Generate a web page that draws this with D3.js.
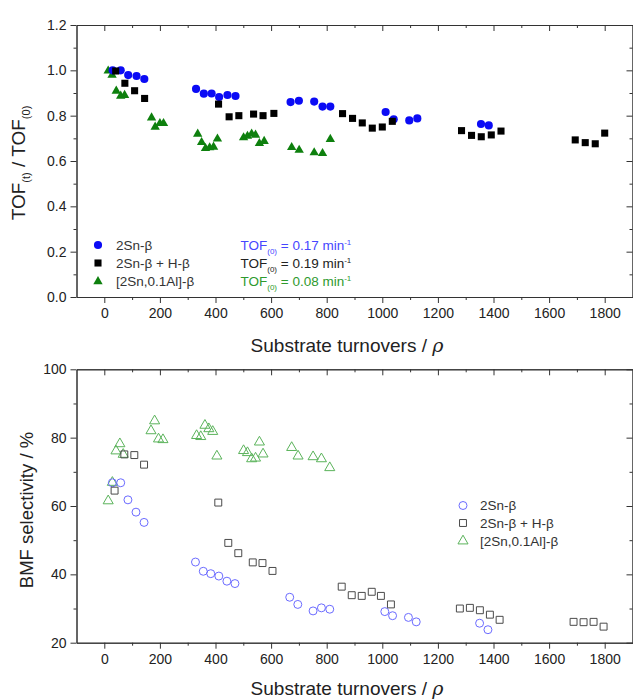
<!DOCTYPE html>
<html><head><meta charset="utf-8">
<script src="https://cdn.jsdelivr.net/npm/d3@7"></script>
<style>
body{margin:0;background:#fff;}
text{font-family:"Liberation Sans",Arial,sans-serif;}
</style></head>
<body><svg id="chart" width="633" height="700"></svg>
<script>
// ---- data: top panel (TOF(t)/TOF(0)) ----
const topSn_x   = [30, 59, 86, 116, 144, 330, 358, 386, 413, 443, 472, 670, 700, 755, 785, 813, 1012, 1041, 1097, 1126, 1355, 1383];
const topSn_y   = [1.0, 1.0, 0.979, 0.975, 0.962, 0.918, 0.897, 0.898, 0.882, 0.891, 0.887, 0.860, 0.866, 0.862, 0.840, 0.840, 0.816, 0.784, 0.779, 0.788, 0.763, 0.757];
const topSnH_x  = [41, 74, 109, 145, 411, 449, 484, 537, 571, 610, 857, 893, 928, 964, 1000, 1036, 1285, 1321, 1356, 1392, 1427, 1694, 1730, 1766, 1800];
const topSnH_y  = [0.997, 0.943, 0.910, 0.876, 0.851, 0.795, 0.800, 0.807, 0.800, 0.810, 0.809, 0.788, 0.768, 0.745, 0.750, 0.775, 0.734, 0.713, 0.707, 0.715, 0.732, 0.693, 0.681, 0.676, 0.723];
const topSnAl_x = [14, 28, 43, 59, 73, 170, 183, 200, 213, 336, 350, 364, 379, 393, 407, 501, 515, 530, 544, 558, 575, 674, 701, 755, 785, 813];
const topSnAl_y = [0.998, 0.979, 0.909, 0.887, 0.890, 0.791, 0.750, 0.766, 0.766, 0.719, 0.682, 0.656, 0.659, 0.662, 0.698, 0.703, 0.710, 0.720, 0.715, 0.678, 0.687, 0.660, 0.648, 0.637, 0.634, 0.696];

// ---- data: bottom panel (BMF selectivity %) ----
const botSn_x   = [29, 59, 85, 114, 143, 328, 356, 383, 412, 441, 470, 667, 696, 751, 781, 811, 1009, 1037, 1094, 1122, 1350, 1380];
const botSn_y   = [66.8, 66.8, 61.8, 58.2, 55.2, 43.6, 40.9, 40.2, 39.5, 38.0, 37.3, 33.3, 31.2, 29.3, 30.2, 29.8, 29.1, 27.9, 27.4, 26.1, 25.7, 23.8];
const botSnH_x  = [37, 72, 108, 143, 410, 446, 482, 534, 569, 605, 854, 890, 926, 962, 995, 1031, 1279, 1315, 1351, 1387, 1422, 1688, 1724, 1760, 1796];
const botSnH_y  = [64.5, 75.1, 74.9, 72.1, 61.0, 49.2, 46.2, 43.5, 43.3, 41.0, 36.4, 33.9, 33.7, 34.9, 33.7, 31.2, 30.0, 30.2, 29.5, 28.2, 26.7, 26.1, 26.0, 26.1, 24.7];
const botSnAl_x = [14, 29, 42, 56, 68, 168, 181, 195, 211, 332, 347, 362, 376, 390, 405, 501, 515, 530, 544, 558, 571, 674, 697, 751, 781, 811];
const botSnAl_y = [61.5, 66.9, 76.1, 78.2, 75.1, 82.0, 84.9, 79.6, 79.4, 80.6, 80.3, 83.6, 82.6, 81.8, 74.6, 76.2, 75.6, 73.8, 74.0, 78.7, 75.2, 77.1, 74.6, 74.4, 73.8, 71.2];

// ---- labels / ticks ----
const seriesNames = ["2Sn-\u03b2", "2Sn-\u03b2 + H-\u03b2", "[2Sn,0.1Al]-\u03b2"];
const tofValues = ["0.17", "0.19", "0.08"];
const xMajorTicks = [0, 200, 400, 600, 800, 1000, 1200, 1400, 1600, 1800];
const xMinorTicks = [100, 300, 500, 700, 900, 1100, 1300, 1500, 1700];
const topYMajor = [0.0, 0.2, 0.4, 0.6, 0.8, 1.0, 1.2];
const topYMinor = [0.1, 0.3, 0.5, 0.7, 0.9, 1.1];
const botYMajor = [20, 40, 60, 80, 100];
const botYMinor = [30, 50, 70, 90];

const svg = d3.select("#chart");
const L = 76.5, R = 632.5;
const x = d3.scaleLinear().domain([-100, 1900]).range([L, R]);
const yTop = d3.scaleLinear().domain([0, 1.2]).range([297, 25]);
const yBot = d3.scaleLinear().domain([20, 100]).range([642.7, 369.3]);

const filledCol = ["#0b0bf5", "#000000", "#0e800e"];
const openCol = ["#6b6bff", "#4a4a4a", "#5bb35b"];
const shapes = [d3.symbolCircle, d3.symbolSquare, d3.symbolTriangle];
const sizesFilled = [52, 50, 38];
const sizesOpen = [50, 48, 44];

function frame(y, yMajor, yMinor, fmt) {
  const g = svg.append("g");
  const [y0, y1] = y.range();
  const styleAxis = sel => {
    sel.selectAll("path").attr("stroke", "#333").attr("stroke-width", 1);
    sel.selectAll("line").attr("stroke", "#333").attr("stroke-width", 1);
    sel.selectAll("text").attr("font-family", "Liberation Sans, Arial, sans-serif").attr("font-size", 14).attr("fill", "#222");
  };
  // bottom
  g.append("g").attr("transform", `translate(0,${y0})`)
    .call(d3.axisBottom(x).tickValues(xMajorTicks).tickSize(6).tickSizeOuter(0).tickPadding(5).tickFormat(d3.format("d")))
    .call(styleAxis);
  g.append("g").attr("transform", `translate(0,${y0})`)
    .call(d3.axisBottom(x).tickValues(xMinorTicks).tickSize(3).tickSizeOuter(0).tickFormat(""))
    .call(styleAxis);
  // top (inward)
  g.append("g").attr("transform", `translate(0,${y1})`)
    .call(d3.axisTop(x).tickValues(xMajorTicks).tickSize(-6).tickSizeOuter(0).tickFormat(""))
    .call(styleAxis);
  g.append("g").attr("transform", `translate(0,${y1})`)
    .call(d3.axisTop(x).tickValues(xMinorTicks).tickSize(-3).tickSizeOuter(0).tickFormat(""))
    .call(styleAxis);
  // left
  g.append("g").attr("transform", `translate(${L},0)`)
    .call(d3.axisLeft(y).tickValues(yMajor).tickSize(6).tickSizeOuter(0).tickPadding(4).tickFormat(fmt))
    .call(styleAxis);
  g.append("g").attr("transform", `translate(${L},0)`)
    .call(d3.axisLeft(y).tickValues(yMinor).tickSize(3).tickSizeOuter(0).tickFormat(""))
    .call(styleAxis);
  // right (inward)
  g.append("g").attr("transform", `translate(${R},0)`)
    .call(d3.axisRight(y).tickValues(yMajor).tickSize(-6).tickSizeOuter(0).tickFormat(""))
    .call(styleAxis);
  g.append("g").attr("transform", `translate(${R},0)`)
    .call(d3.axisRight(y).tickValues(yMinor).tickSize(-3).tickSizeOuter(0).tickFormat(""))
    .call(styleAxis);
}

frame(yTop, topYMajor, topYMinor, d3.format(".1f"));
frame(yBot, botYMajor, botYMinor, d3.format("d"));

function plotSeries(xs, ys, y, i, filled) {
  const pts = xs.map((v, k) => [v, ys[k]]);
  const sym = d3.symbol().type(shapes[i]).size(filled ? sizesFilled[i] : sizesOpen[i]);
  svg.append("g").selectAll("path").data(pts).join("path")
    .attr("d", sym)
    .attr("transform", d => `translate(${x(d[0])},${y(d[1])})`)
    .attr("fill", filled ? filledCol[i] : "none")
    .attr("stroke", filled ? "none" : openCol[i])
    .attr("stroke-width", 1);
}
plotSeries(topSnAl_x, topSnAl_y, yTop, 2, true);
plotSeries(topSn_x, topSn_y, yTop, 0, true);
plotSeries(topSnH_x, topSnH_y, yTop, 1, true);

plotSeries(botSnAl_x, botSnAl_y, yBot, 2, false);
plotSeries(botSn_x, botSn_y, yBot, 0, false);
plotSeries(botSnH_x, botSnH_y, yBot, 1, false);

// axis titles
function xTitle(yb) {
  const t = svg.append("text").attr("x", 347).attr("y", yb).attr("text-anchor", "middle")
    .attr("font-size", 19).attr("fill", "#222");
  t.append("tspan").text("Substrate turnovers / ");
  t.append("tspan").attr("font-style", "italic").attr("font-family", "DejaVu Serif, serif").text("\u03c1");
}
xTitle(351.5);
xTitle(695);

const yt1 = svg.append("text").attr("transform", "translate(25,163) rotate(-90)")
  .attr("text-anchor", "middle").attr("font-size", 19).attr("fill", "#222");
yt1.append("tspan").text("TOF");
yt1.append("tspan").attr("font-size", 11).attr("dy", 5).text("(t)");
yt1.append("tspan").attr("dy", -5).text(" / TOF");
yt1.append("tspan").attr("font-size", 11).attr("dy", 5).text("(0)");

svg.append("text").attr("transform", "translate(32.5,510) rotate(-90)")
  .attr("text-anchor", "middle").attr("font-size", 18.5).attr("fill", "#222")
  .text("BMF selectivity / %");

// top legend
const legTopY = [245, 263, 281.5];
seriesNames.forEach((n, i) => {
  svg.append("path")
    .attr("d", d3.symbol().type(shapes[i]).size(sizesFilled[i])())
    .attr("transform", `translate(98,${legTopY[i]})`)
    .attr("fill", filledCol[i]);
  svg.append("text").attr("x", 116).attr("y", legTopY[i] + 4.5)
    .attr("font-size", 13.5).attr("fill", "#333").text(n);
});
const tofCol = ["#4646ff", "#222222", "#2e9a2e"];
tofValues.forEach((v, i) => {
  const t = svg.append("text").attr("x", 240.5).attr("y", legTopY[i] + 4.5)
    .attr("font-size", 13.5).attr("fill", tofCol[i]);
  t.append("tspan").text("TOF");
  t.append("tspan").attr("font-size", 8).attr("dy", 4).text("(0)");
  t.append("tspan").attr("dy", -4).text(" = " + v + " min");
  t.append("tspan").attr("font-size", 8).attr("dy", -5).text("-1");
});

// bottom legend
const legBotY = [505.5, 523, 541];
seriesNames.forEach((n, i) => {
  svg.append("path")
    .attr("d", d3.symbol().type(shapes[i]).size(sizesOpen[i])())
    .attr("transform", `translate(463,${legBotY[i]})`)
    .attr("fill", "none").attr("stroke", openCol[i]).attr("stroke-width", 1);
  svg.append("text").attr("x", 480).attr("y", legBotY[i] + 4.5)
    .attr("font-size", 13.5).attr("fill", "#333").text(n);
});
</script></body></html>
